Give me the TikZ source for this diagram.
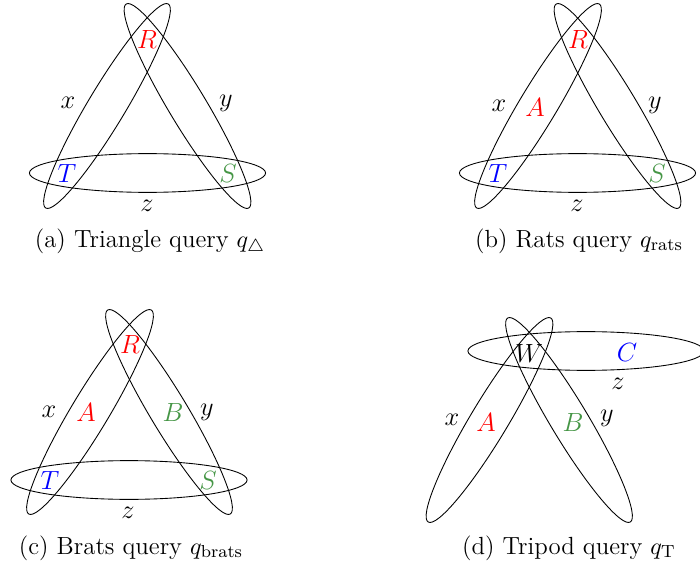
\documentclass[tikz,border=0pt]{standalone}
\usepackage{amsmath,amssymb}
\usepackage{xcolor}
\usepackage{tikz}
\usetikzlibrary{shapes.geometric,calc}
\definecolor{relgreen}{RGB}{70,150,70}

\begin{document}
\begin{tikzpicture}[
    x=0.016cm, y=-0.016cm,
    side/.style={draw, ellipse, inner sep=0pt, minimum width=3.81cm, minimum height=0.6cm},
    base/.style={draw, ellipse, inner sep=0pt, minimum width=3.78cm, minimum height=0.62cm},
    lbl/.style={font=\large, inner sep=0pt},
    subcap/.style={font=\fontsize{11.3}{13}\selectfont},
]
    \useasboundingbox (0,0) rectangle (700,566);

    % (a) Triangle query
    \node[lbl, text=red] (Ra) at (147,39) {$R$};
    \node[lbl, text=blue] (Ta) at (67,173) {$T$};
    \node[lbl, text=relgreen] (Sa) at (228,173) {$S$};
    \node[side, rotate=59] (xa) at ($(Ra)!0.5!(Ta)$) {};
    \node[side, rotate=-59] (ya) at ($(Ra)!0.5!(Sa)$) {};
    \node[base] (za) at ($(Ta)!0.5!(Sa)$) {};
    \node[lbl] (xla) at (68,103) {$x$};
    \node[lbl] (yla) at (226,103) {$y$};
    \node[lbl] (zla) at (147,206) {$z$};
    \node[subcap] (capa) at (150,242) {(a) Triangle query $q_{\triangle}$};

    % (b) Rats query
    \node[lbl, text=red] (Rb) at (578,39) {$R$};
    \node[lbl, text=blue] (Tb) at (498,173) {$T$};
    \node[lbl, text=relgreen] (Sb) at (657,173) {$S$};
    \node[side, rotate=59] (xb) at ($(Rb)!0.5!(Tb)$) {};
    \node[side, rotate=-59] (yb) at ($(Rb)!0.5!(Sb)$) {};
    \node[base] (zb) at ($(Tb)!0.5!(Sb)$) {};
    \node[lbl, text=red] (Ab) at (535,107) {$A$};
    \node[lbl] (xlb) at (499,106) {$x$};
    \node[lbl] (ylb) at (655,105) {$y$};
    \node[lbl] (zlb) at (577,206) {$z$};
    \node[subcap] (capb) at (579,241) {(b) Rats query $q_{\text{rats}}$};

    % (c) Brats query
    \node[lbl, text=red] (Rc) at (130,344) {$R$};
    \node[lbl, text=blue] (Tc) at (50,480) {$T$};
    \node[lbl, text=relgreen] (Sc) at (208,480) {$S$};
    \node[side, rotate=59] (xc) at ($(Rc)!0.5!(Tc)$) {};
    \node[side, rotate=-59] (yc) at ($(Rc)!0.5!(Sc)$) {};
    \node[base] (zc) at ($(Tc)!0.5!(Sc)$) {};
    \node[lbl, text=red] (Ac) at (86,412) {$A$};
    \node[lbl, text=relgreen] (Bc) at (173,412) {$B$};
    \node[lbl] (xlc) at (49,412) {$x$};
    \node[lbl] (ylc) at (207,412) {$y$};
    \node[lbl] (zlc) at (128,513) {$z$};
    \node[subcap] (capc) at (131,548) {(c) Brats query $q_{\text{brats}}$};

    % (d) Tripod query
    \node[lbl] (Wd) at (529,353) {$W$};
    \coordinate (Td) at (450,487);
    \coordinate (Sd) at (609,487);
    \node[side, rotate=59] (xd) at ($(Wd)!0.5!(Td)$) {};
    \node[side, rotate=-59] (yd) at ($(Wd)!0.5!(Sd)$) {};
    \node[base] (zd) at (586,351) {};
    \node[lbl, text=blue] (Cd) at (627,352) {$C$};
    \node[lbl, text=red] (Ad) at (486,422) {$A$};
    \node[lbl, text=relgreen] (Bd) at (573,422) {$B$};
    \node[lbl] (xld) at (452,420) {$x$};
    \node[lbl] (yld) at (607,418) {$y$};
    \node[lbl] (zld) at (618,384) {$z$};
    \node[subcap] (capd) at (569,548) {(d) Tripod query $q_{\mathrm{T}}$};
\end{tikzpicture}
\end{document}
